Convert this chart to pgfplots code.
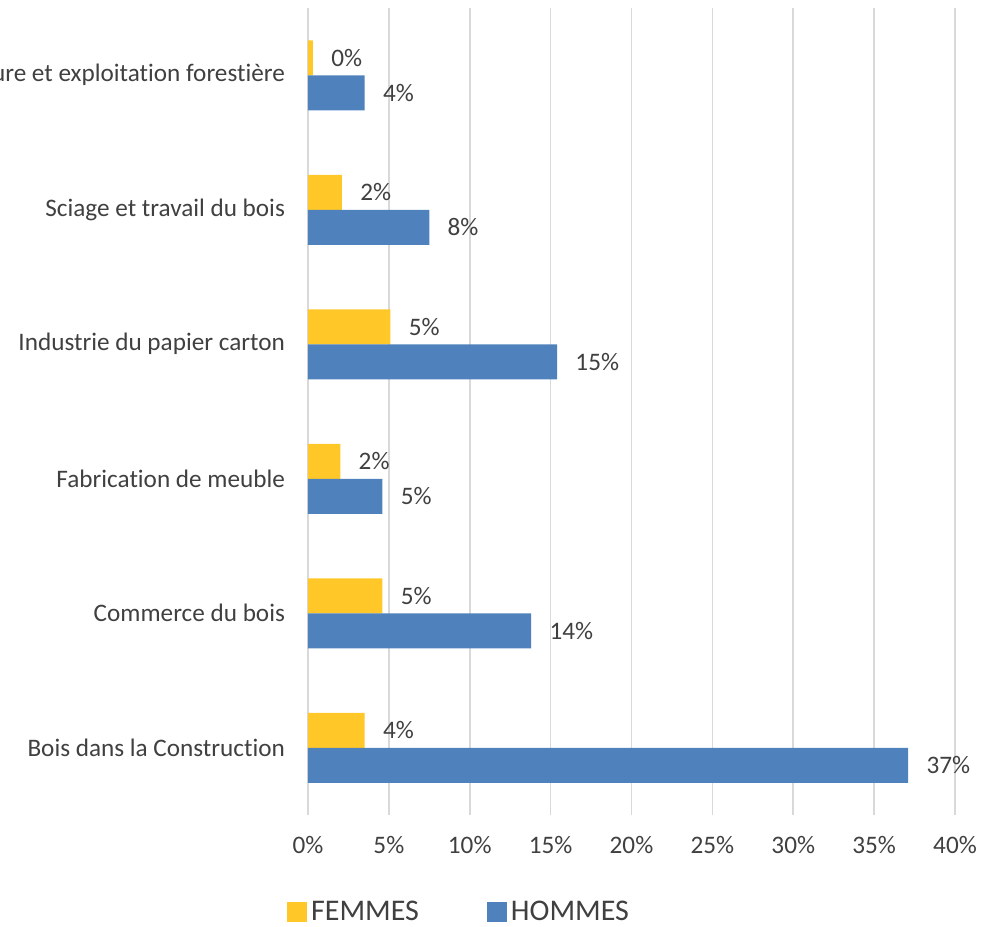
\documentclass[border=0pt]{standalone}
\usepackage{pgfplots}
\pgfplotsset{compat=1.18}
\usepackage{fontspec}
\setmainfont{Carlito}[Ligatures=NoCommon]
\definecolor{fem}{RGB}{255,200,40}
\definecolor{hom}{RGB}{79,129,189}
\definecolor{txt}{RGB}{64,64,64}
\definecolor{grd}{RGB}{217,217,217}
\begin{document}
\begin{tikzpicture}
\useasboundingbox (-154pt,-55.5pt) rectangle (345.5pt,407.5pt);
\begin{axis}[
  scale only axis,
  width=323.5pt, height=403.5pt,
  xbar,
  bar width=17.5pt,
  xmin=0, xmax=40,
  ymin=-0.5, ymax=5.5,
  xtick={0,5,...,40},
  xticklabel={\pgfmathprintnumber{\tick}\%},
  ytick={0,1,2,3,4,5},
  yticklabels={Bois dans la Construction,Commerce du bois,Fabrication de meuble,Industrie du papier carton,Sciage et travail du bois,Sylviculture et exploitation forestière},
  major tick length=0pt,
  axis line style={draw=none},
  xmajorgrids,
  major grid style={grd, line width=0.8pt},
  tick label style={font=\fontsize{12.6}{14}\selectfont, text=txt},
  /pgf/number format/assume math mode=true,
  xticklabel style={yshift=-7pt},
  yticklabel style={xshift=-8pt},
  nodes near coords,
  point meta=explicit symbolic,
  every node near coord/.append style={font=\fontsize{12.6}{14}\selectfont, text=txt, anchor=west, inner sep=0pt, xshift=9pt},
  legend style={at={(0.235,-0.12)}, anchor=center, draw=none, legend columns=2,
    font=\fontsize{15}{17}\selectfont, text=txt,
    /tikz/every even column/.append style={column sep=32pt}},
  legend image code/.code={\fill[#1] (0pt,-5pt) rectangle (10pt,5pt);},
]
\addplot[fill=fem, draw=none, bar shift=8.75pt] coordinates {
  (3.5,0) [4\%]
  (4.6,1) [5\%]
  (2.0,2) [2\%]
  (5.1,3) [5\%]
  (2.1,4) [2\%]
  (0.3,5) [0\%]
};
\addlegendentry{FEMMES}
\addplot[fill=hom, draw=none, bar shift=-8.75pt] coordinates {
  (37.1,0) [37\%]
  (13.8,1) [14\%]
  (4.6,2) [5\%]
  (15.4,3) [15\%]
  (7.5,4) [8\%]
  (3.5,5) [4\%]
};
\addlegendentry{HOMMES}
\end{axis}
\end{tikzpicture}
\end{document}
